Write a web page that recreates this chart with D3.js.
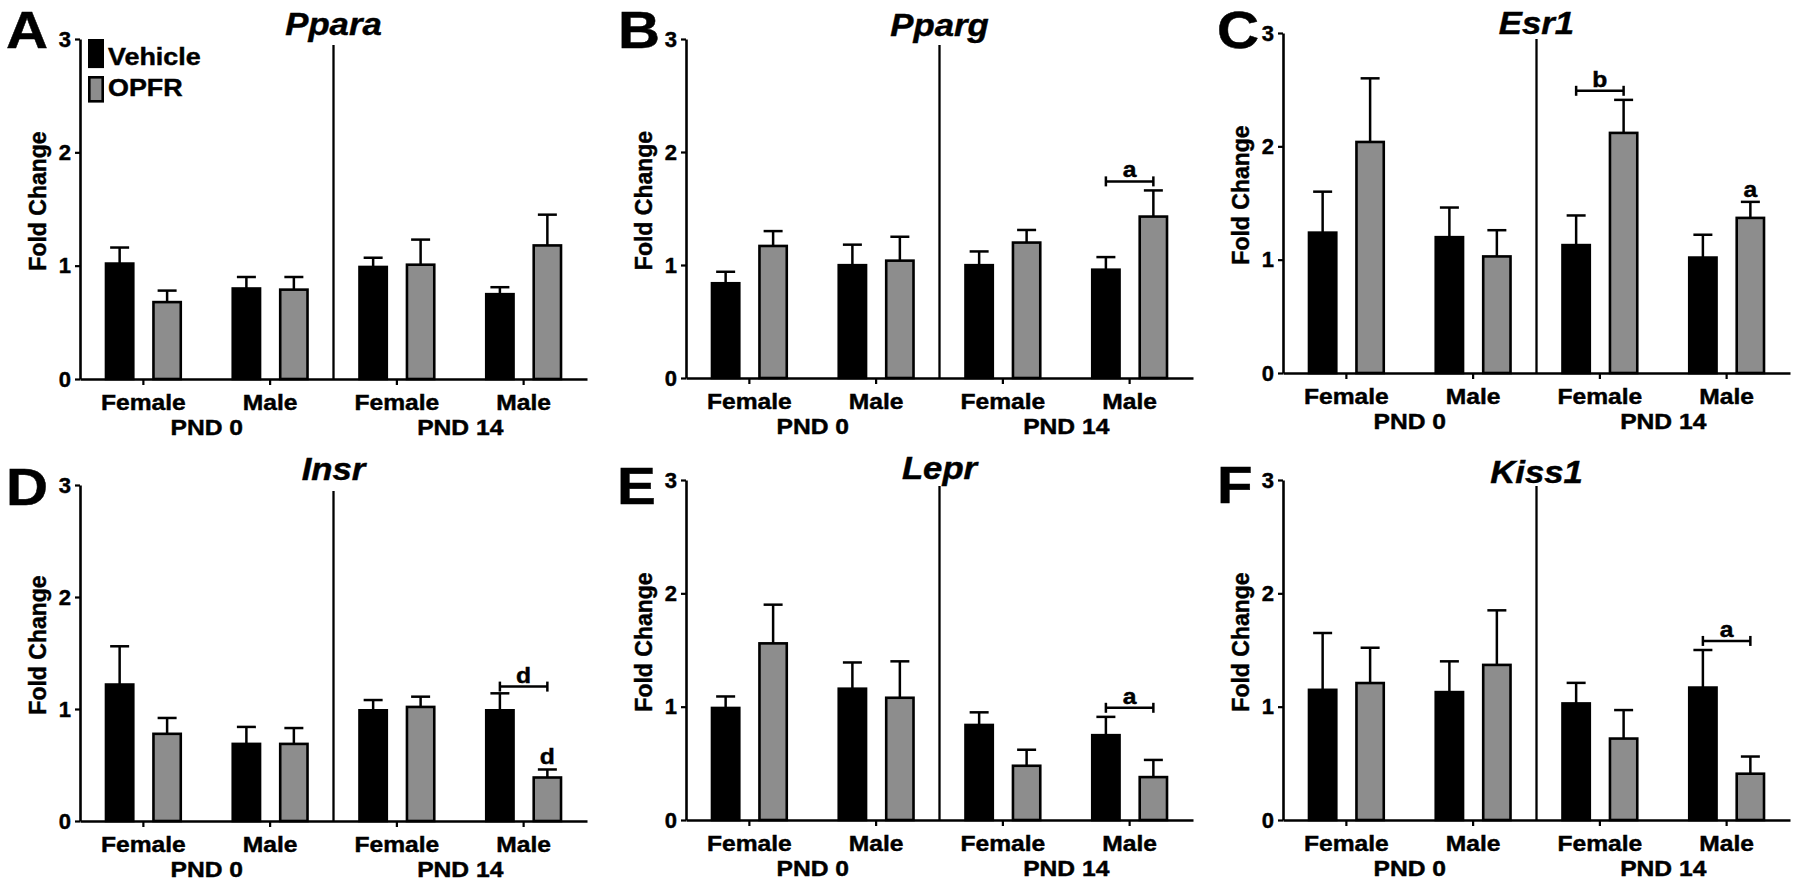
<!DOCTYPE html>
<html>
<head>
<meta charset="utf-8">
<script src="https://cdn.jsdelivr.net/npm/d3@7"></script>
<style>
  html, body { margin: 0; padding: 0; background: #fff; }
  svg { display: block; }
  text { font-family: "Liberation Sans", Arial, Helvetica, sans-serif; font-weight: bold; fill: #000;
         stroke: #000; stroke-width: 0.45px; }
</style>
</head>
<body>
<script>
// ---------------- DATA ----------------
const genes   = ["Ppara", "Pparg", "Esr1", "Insr", "Lepr", "Kiss1"];
const letters = ["A", "B", "C", "D", "E", "F"];
const groups  = ["Female", "Male", "Female", "Male"];
const ages    = ["PND 0", "PND 14"];
const series  = ["Vehicle", "OPFR"];
const yTicks  = [0, 1, 2, 3];

// means per gene, groups ordered: PND0 Female, PND0 Male, PND14 Female, PND14 Male
const vehicleMean = [
  [1.03, 0.81, 1.00, 0.76],
  [0.85, 1.01, 1.01, 0.97],
  [1.25, 1.21, 1.14, 1.03],
  [1.23, 0.70, 1.00, 1.00],
  [1.00, 1.17, 0.85, 0.76],
  [1.16, 1.14, 1.04, 1.18]
];
const vehicleSem = [
  [0.13, 0.09, 0.07, 0.05],
  [0.09, 0.17, 0.11, 0.10],
  [0.35, 0.25, 0.25, 0.19],
  [0.33, 0.14, 0.08, 0.14],
  [0.09, 0.22, 0.10, 0.15],
  [0.49, 0.26, 0.17, 0.32]
];
const opfrMean = [
  [0.69, 0.80, 1.02, 1.19],
  [1.18, 1.05, 1.21, 1.44],
  [2.05, 1.04, 2.13, 1.38],
  [0.79, 0.70, 1.03, 0.40],
  [1.57, 1.09, 0.49, 0.39],
  [1.22, 1.38, 0.73, 0.42]
];
const opfrSem = [
  [0.09, 0.10, 0.21, 0.26],
  [0.12, 0.20, 0.10, 0.22],
  [0.55, 0.22, 0.28, 0.13],
  [0.13, 0.13, 0.08, 0.06],
  [0.33, 0.31, 0.13, 0.14],
  [0.30, 0.47, 0.24, 0.14]
];
// significance brackets (between Vehicle and OPFR of a group) and letters above bars
const brackets = [
  { gene: "Pparg", group: 3, level: 1.74, label: "a" },
  { gene: "Esr1",  group: 2, level: 2.49, label: "b" },
  { gene: "Insr",  group: 3, level: 1.20, label: "d" },
  { gene: "Lepr",  group: 3, level: 0.99, label: "a" },
  { gene: "Kiss1", group: 3, level: 1.58, label: "a" }
];
const barMarks = [
  { gene: "Esr1", group: 3, series: "OPFR", label: "a" },
  { gene: "Insr", group: 3, series: "OPFR", label: "d" }
];

// ---------------- LAYOUT ----------------
const W = 1800, H = 884;
const panelW = 507;
const layout = [
  { x0: 80,   top: 39,  zero: 379, lx: 6,    ly: 48,  ty: 35 },
  { x0: 686,  top: 39,  zero: 378, lx: 618,  ly: 48,  ty: 36 },
  { x0: 1283, top: 33,  zero: 373, lx: 1217, ly: 48,  ty: 34 },
  { x0: 80,   top: 485, zero: 821, lx: 6,    ly: 505, ty: 480 },
  { x0: 686,  top: 480, zero: 820, lx: 617,  ly: 504, ty: 479 },
  { x0: 1283, top: 480, zero: 820, lx: 1217, ly: 503, ty: 483 }
];
const GRAY = "#8d8d8d";
const SX = 1.12; // horizontal stretch of the original artwork's lettering

const svg = d3.select("body").append("svg").attr("width", W).attr("height", H);

function txt(g, x, y, s, size, anchor, italic) {
  return g.append("text")
    .attr("transform", `translate(${x},${y}) scale(${SX},1)`)
    .attr("text-anchor", anchor || "middle")
    .style("font-size", size + "px")
    .style("font-style", italic ? "italic" : "normal")
    .text(s);
}

genes.forEach((gene, gi) => {
  const L = layout[gi];
  const g = svg.append("g");

  const x = d3.scaleBand().domain(d3.range(groups.length)).range([L.x0, L.x0 + panelW]).padding(0);
  const xi = d3.scaleBand().domain(series).range([0, x.bandwidth()]).paddingInner(0.37).paddingOuter(0.52);
  const y = d3.scaleLinear().domain([0, 3]).range([L.zero, L.top]);
  const bw = xi.bandwidth();

  // bars
  const rows = [];
  groups.forEach((grp, k) => {
    rows.push({ k, s: "Vehicle", m: vehicleMean[gi][k], e: vehicleSem[gi][k] });
    rows.push({ k, s: "OPFR",    m: opfrMean[gi][k],    e: opfrSem[gi][k] });
  });
  const sw = 2.6;
  g.selectAll("rect.bar").data(rows).join("rect")
    .attr("class", "bar")
    .attr("x", d => x(d.k) + xi(d.s) + sw / 2)
    .attr("width", bw - sw)
    .attr("y", d => y(d.m) + sw / 2)
    .attr("height", d => L.zero - y(d.m) - sw / 2)
    .attr("fill", d => d.s === "Vehicle" ? "#000" : GRAY)
    .attr("stroke", "#000")
    .attr("stroke-width", sw);

  // error bars
  const cx = d => x(d.k) + xi(d.s) + bw / 2;
  g.selectAll("line.err").data(rows).join("line")
    .attr("class", "err")
    .attr("x1", cx).attr("x2", cx)
    .attr("y1", d => y(d.m) + 1).attr("y2", d => y(d.m + d.e))
    .attr("stroke", "#000").attr("stroke-width", 2.5);
  g.selectAll("line.cap").data(rows).join("line")
    .attr("class", "cap")
    .attr("x1", d => cx(d) - 9.5).attr("x2", d => cx(d) + 9.5)
    .attr("y1", d => y(d.m + d.e)).attr("y2", d => y(d.m + d.e))
    .attr("stroke", "#000").attr("stroke-width", 2.5);

  // divider
  const midX = L.x0 + panelW / 2;
  g.append("line")
    .attr("x1", midX).attr("x2", midX)
    .attr("y1", L.top + 6).attr("y2", L.zero)
    .attr("stroke", "#000").attr("stroke-width", 2.3);

  // axes
  const ya = g.append("g").attr("transform", `translate(${L.x0},0)`)
    .call(d3.axisLeft(y).tickValues(yTicks).tickFormat(d3.format("d")).tickSize(5).tickSizeOuter(0).tickPadding(4));
  const xa = g.append("g").attr("transform", `translate(0,${L.zero})`)
    .call(d3.axisBottom(x).tickFormat("").tickSize(6).tickSizeOuter(0));
  [ya, xa].forEach(a => {
    a.select(".domain").attr("stroke", "#000").attr("stroke-width", 2.6);
    a.selectAll(".tick line").attr("stroke", "#000").attr("stroke-width", 2.2);
  });
  ya.selectAll(".tick text").style("font-size", "22px").style("font-weight", "bold")
    .style("font-family", "'Liberation Sans', Arial, sans-serif").attr("fill", "#000");

  // group labels
  groups.forEach((grp, k) => txt(g, x(k) + x.bandwidth() / 2, L.zero + 31, grp, 22));
  ages.forEach((a, j) => {
    const c = (x(2 * j) + x(2 * j + 1)) / 2 + x.bandwidth() / 2;
    txt(g, c, L.zero + 56, a, 22);
  });

  // y title
  g.append("text")
    .attr("transform", `translate(${L.x0 - 42},${(L.top + L.zero) / 2 - 8}) rotate(-90)`)
    .attr("text-anchor", "middle")
    .attr("dominant-baseline", "central")
    .style("font-size", "23px")
    .text("Fold Change");

  // gene title and panel letter
  txt(g, midX, L.ty, gene, 31, "middle", true);
  txt(g, L.lx, L.ly, letters[gi], 52, "start");

  // brackets
  brackets.filter(b => b.gene === gene).forEach(b => {
    const xa1 = x(b.group) + xi("Vehicle") + bw / 2;
    const xa2 = x(b.group) + xi("OPFR") + bw / 2;
    const yy = y(b.level);
    g.append("line").attr("x1", xa1).attr("x2", xa2).attr("y1", yy).attr("y2", yy)
      .attr("stroke", "#000").attr("stroke-width", 2.5);
    [xa1, xa2].forEach(xx => g.append("line").attr("x1", xx).attr("x2", xx)
      .attr("y1", yy - 5).attr("y2", yy + 5).attr("stroke", "#000").attr("stroke-width", 2.5));
    txt(g, (xa1 + xa2) / 2, yy - 4, b.label, 22);
  });
  barMarks.filter(b => b.gene === gene).forEach(b => {
    const idx = series.indexOf(b.series);
    const m = (idx === 0 ? vehicleMean : opfrMean)[gi][b.group];
    const e = (idx === 0 ? vehicleSem : opfrSem)[gi][b.group];
    txt(g, x(b.group) + xi(b.series) + bw / 2, y(m + e) - 5, b.label, 22);
  });

  // legend (panel A only)
  if (gi === 0) {
    series.forEach((s, j) => {
      g.append("rect")
        .attr("x", L.x0 + 9.3).attr("y", L.top + 1.3 + j * 37)
        .attr("width", 13.4).attr("height", j === 0 ? 26.5 : 24)
        .attr("fill", j === 0 ? "#000" : GRAY)
        .attr("stroke", "#000").attr("stroke-width", 2.6);
      txt(g, L.x0 + 28, L.top + 26 + j * 30.5, s, 24, "start");
    });
  }
});
</script>
</body>
</html>
